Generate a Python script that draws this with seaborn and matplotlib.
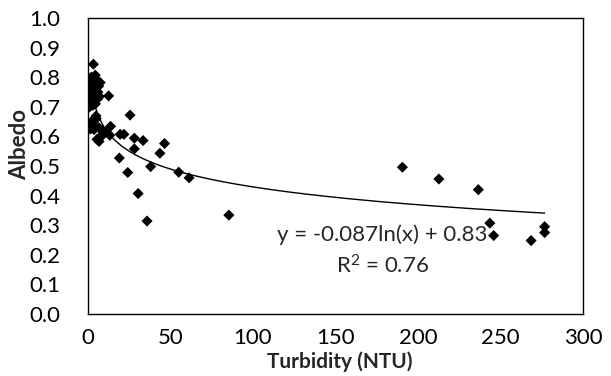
import numpy as np
import pandas as pd
import matplotlib
matplotlib.use("Agg")
import matplotlib.pyplot as plt
import seaborn as sns

turbidity = [
    3.3, 0.5, 2.0, 4.4, 5.5, 7.4, 6.5, 3.0, 5.0, 2.5, 6.0, 4.0, 1.5, 7.0, 3.5,
    5.5, 2.0, 4.5, 1.0, 3.0,
    4.9, 0.8, 2.1, 3.7, 6.5, 8.5, 9.0, 6.7, 5.5, 7.5, 1.5, 10.5, 5.0, 3.0,
    12.5, 13.2, 13.7, 19.0, 19.5, 21.8, 24.1, 25.5, 28.1, 28.1, 30.4, 33.4,
    35.8, 38.0, 43.6, 46.4, 55.0, 61.3, 85.4,
    190.6, 212.7, 236.6, 243.6, 245.9, 268.6, 276.8, 276.8,
]
albedo = [
    0.844, 0.796, 0.80, 0.807, 0.79, 0.782, 0.77, 0.775, 0.765, 0.76, 0.75,
    0.745, 0.74, 0.735, 0.73, 0.725, 0.72, 0.71, 0.70, 0.705,
    0.669, 0.64, 0.64, 0.623, 0.63, 0.62, 0.605, 0.583, 0.59, 0.60, 0.625,
    0.615, 0.66, 0.655,
    0.737, 0.604, 0.634, 0.527, 0.607, 0.607, 0.478, 0.672, 0.558, 0.594,
    0.407, 0.586, 0.314, 0.498, 0.543, 0.576, 0.479, 0.46, 0.334,
    0.496, 0.456, 0.42, 0.307, 0.265, 0.248, 0.295, 0.275,
]
fit_a = -0.087
fit_b = 0.83
eq_label = "y = -0.087ln(x) + 0.83"
r2_label = "R$^2$ = 0.76"

df = pd.DataFrame({"Turbidity": turbidity, "Albedo": albedo})
fx = np.linspace(4, max(turbidity), 300)
fit_df = pd.DataFrame({"x": fx, "y": fit_a * np.log(fx) + fit_b})

sns.set_style("white")
plt.rcParams["font.family"] = ["Lato", "DejaVu Sans"]
plt.rcParams["mathtext.default"] = "regular"

fig = plt.figure(figsize=(6.11, 3.76), dpi=100)
ax = fig.add_axes([0.144, 0.165, 0.81, 0.787])

sns.lineplot(data=fit_df, x="x", y="y", ax=ax, color="black", linewidth=1.0)
sns.scatterplot(data=df, x="Turbidity", y="Albedo", ax=ax, marker="D",
                color="black", edgecolor="none", s=32, zorder=3)

ax.set_xlim(0, 300)
ax.set_ylim(0, 1.0)
ax.set_xticks(np.arange(0, 301, 50))
ax.set_yticks(np.arange(0, 1.01, 0.1))
ax.set_yticklabels([f"{v:.1f}" for v in np.arange(0, 1.01, 0.1)])
ax.tick_params(axis="both", direction="in", length=5, width=1, labelsize=16,
               colors="black")
ax.tick_params(axis="y", pad=20)
ax.tick_params(axis="x", pad=10)
for sp in ax.spines.values():
    sp.set_color("black")
    sp.set_linewidth(1.0)

ax.set_xlabel("Turbidity (NTU)", fontsize=15, fontweight="bold")
ax.xaxis.set_label_coords(0.509, -0.126)
ax.set_ylabel("Albedo", fontsize=16, fontweight="bold")
ax.yaxis.set_label_coords(-0.117, 0.574)

ax.text(178.5, 0.267, eq_label, ha="center", va="center", fontsize=16)
ax.text(178.5, 0.162, r2_label, ha="center", va="center", fontsize=16)

fig.savefig("out.png", dpi=100)
